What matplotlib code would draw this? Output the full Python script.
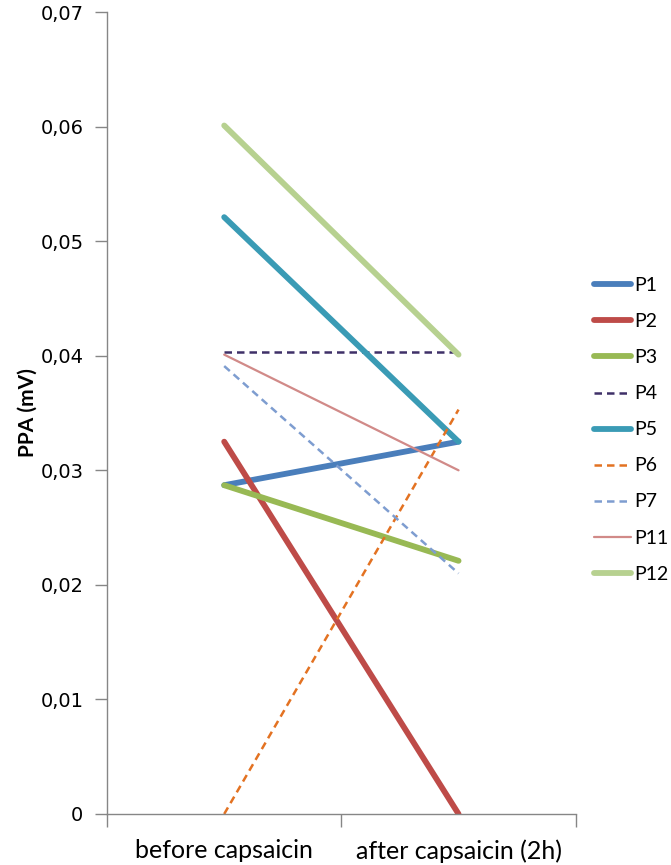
import matplotlib
matplotlib.use("Agg")
import matplotlib.pyplot as plt
from matplotlib.ticker import FixedLocator, FuncFormatter

categories = ["before capsaicin", "after capsaicin (2h)"]
series_names = ["P1", "P2", "P3", "P4", "P5", "P6", "P7", "P11", "P12"]
p1 = [0.0287, 0.0325]
p2 = [0.0325, 0.0]
p3 = [0.0287, 0.0221]
p4 = [0.0403, 0.0403]
p5 = [0.0521, 0.0325]
p6 = [0.0, 0.0353]
p7 = [0.0391, 0.0210]
p11 = [0.0401, 0.0300]
p12 = [0.0601, 0.0401]
values = [p1, p2, p3, p4, p5, p6, p7, p11, p12]

colors = ["#4A7EBB", "#BE4B48", "#98B954", "#3F3068", "#3A9BB5",
          "#E37222", "#7E9DD0", "#D18A88", "#B7D190"]
widths = [4.2, 4.2, 4.2, 1.8, 4.2, 1.8, 1.8, 1.6, 4.2]
styles = ["-", "-", "-", (0, (3, 2)), "-", (0, (3, 2)), (0, (3, 2)), "-", "-"]

fig = plt.figure(figsize=(6.71, 8.65), dpi=100)
ax = fig.add_axes([0.1595, 0.059, 0.6985, 0.927])

xpos = [0.5, 1.5]
for name, vals, c, lw, ls in zip(series_names, values, colors, widths, styles):
    ax.plot(xpos, vals, color=c, lw=lw, ls=ls, solid_capstyle="round",
            dash_capstyle="butt", label=name)

ax.set_xlim(0, 2)
ax.set_ylim(0, 0.07)
ax.yaxis.set_major_locator(FixedLocator([i * 0.01 for i in range(8)]))
ax.yaxis.set_major_formatter(FuncFormatter(
    lambda v, p: "0" if abs(v) < 1e-9 else f"{v:.2f}".replace(".", ",")))
ax.set_xticks(xpos)
ax.set_xticklabels(categories, fontsize=18, family="Lato")
ax.xaxis.set_minor_locator(FixedLocator([0, 1, 2]))
ax.tick_params(axis="x", which="major", length=0, pad=18)
ax.tick_params(axis="x", which="minor", length=9, color="#868686", width=1)
ax.tick_params(axis="y", length=9, color="#868686", width=1, labelsize=14, pad=8)
for lab in ax.get_yticklabels():
    lab.set_family("DejaVu Sans")

for s in ["top", "right"]:
    ax.spines[s].set_visible(False)
for s in ["left", "bottom"]:
    ax.spines[s].set_color("#868686")
    ax.spines[s].set_linewidth(1)

ax.set_ylabel("PPA (mV)", fontsize=15, fontweight="bold", family="Lato", labelpad=2)

leg = ax.legend(loc="center left", bbox_to_anchor=(1.04, 0.479), frameon=False,
                prop={"family": "Lato", "size": 14},
                handlelength=1.9, handletextpad=0.15, labelspacing=0.98,
                borderaxespad=0, borderpad=0)

fig.savefig("out.png", dpi=100, facecolor="white")
